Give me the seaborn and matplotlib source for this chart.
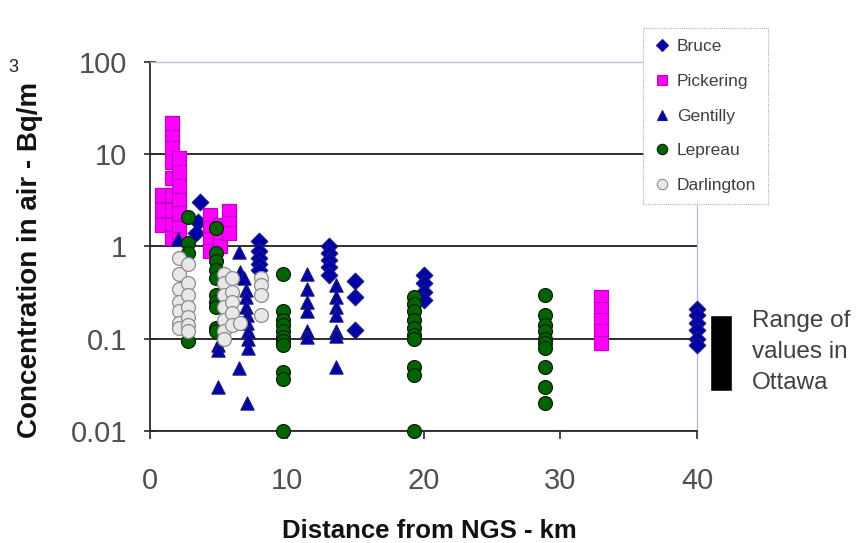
import pandas as pd
import matplotlib
matplotlib.use("Agg")
import matplotlib.pyplot as plt
import seaborn as sns
from matplotlib.ticker import FixedLocator, NullLocator, FuncFormatter
from matplotlib.lines import Line2D

# values (distance km, concentration Bq/m3)
bruce_x = [3.65, 3.5, 3.4,
           8.0, 8.0, 8.0, 8.0, 8.0,
           13.1, 13.1, 13.1, 13.1, 13.1,
           15.0, 15.0, 15.0,
           20.0, 20.0, 20.0, 20.0,
           40.0, 40.0, 40.0, 40.0, 40.0, 40.0]
bruce_y = [3.0, 1.85, 1.4,
           1.15, 0.9, 0.75, 0.65, 0.55,
           1.0, 0.85, 0.71, 0.6, 0.49,
           0.42, 0.28, 0.124,
           0.49, 0.40, 0.32, 0.26,
           0.21, 0.18, 0.15, 0.124, 0.10, 0.085]

pickering_x = [0.9, 0.9, 0.9,
               1.6, 1.6, 1.6, 1.6, 1.6, 1.6, 1.6, 1.6, 1.6,
               2.1, 2.1, 2.1, 2.1, 2.1, 2.1, 2.1,
               4.4, 4.4, 4.4, 4.4,
               5.1, 5.1, 5.1,
               5.8, 5.8, 5.8,
               33.0, 33.0, 33.0, 33.0, 33.0]
pickering_y = [3.6, 2.5, 1.7,
               21.8, 15.4, 11.7, 8.2, 5.5, 3.6, 2.5, 1.7, 1.25,
               9.0, 6.5, 4.5, 3.2, 2.3, 1.6, 1.2,
               2.2, 1.6, 1.2, 0.9,
               1.7, 1.3, 1.0,
               2.4, 1.8, 1.4,
               0.28, 0.21, 0.16, 0.12, 0.09]

gentilly_x = [2.05,
              5.0, 5.0, 5.0,
              6.5, 6.6, 6.9, 7.0, 7.0, 7.0, 7.1, 7.1, 7.2, 7.2, 7.2, 6.5, 7.1,
              11.5, 11.5, 11.5, 11.5, 11.5, 11.5,
              13.6, 13.6, 13.6, 13.6, 13.6, 13.6, 13.6]
gentilly_y = [1.2,
              0.085, 0.075, 0.03,
              0.87, 0.53, 0.45, 0.34, 0.28, 0.22, 0.18, 0.15, 0.12, 0.1, 0.079, 0.048, 0.020,
              0.5, 0.35, 0.25, 0.2, 0.12, 0.105,
              0.38, 0.28, 0.22, 0.18, 0.12, 0.108, 0.05]

lepreau_x = [2.8, 2.8, 2.8, 2.8,
             4.8, 4.8, 4.8, 4.8, 4.8, 4.8, 4.8, 4.8, 4.8, 4.8,
             9.7, 9.7, 9.7, 9.7, 9.7, 9.7, 9.7, 9.7, 9.7, 9.7, 9.7,
             19.3, 19.3, 19.3, 19.3, 19.3, 19.3, 19.3, 19.3, 19.3, 19.3,
             28.9, 28.9, 28.9, 28.9, 28.9, 28.9, 28.9, 28.9, 28.9, 28.9]
lepreau_y = [2.1, 1.1, 0.85, 0.095,
             1.6, 0.85, 0.7, 0.55, 0.45, 0.3, 0.25, 0.22, 0.13, 0.12,
             0.5, 0.2, 0.16, 0.14, 0.12, 0.105, 0.095, 0.085, 0.044, 0.037, 0.01,
             0.28, 0.24, 0.2, 0.16, 0.13, 0.11, 0.1, 0.05, 0.04, 0.01,
             0.3, 0.18, 0.14, 0.12, 0.1, 0.09, 0.08, 0.05, 0.03, 0.02]

darlington_x = [2.1, 2.1, 2.1, 2.1, 2.1, 2.1, 2.1,
                2.8, 2.8, 2.8, 2.8, 2.8, 2.8, 2.8,
                5.4, 5.4, 5.4, 5.4, 5.4, 5.4, 5.4,
                6.0, 6.0, 6.0, 6.0, 6.0,
                6.6,
                8.1, 8.1, 8.1, 8.1]
darlington_y = [0.75, 0.5, 0.35, 0.25, 0.2, 0.15, 0.13,
                0.65, 0.4, 0.3, 0.22, 0.17, 0.14, 0.12,
                0.5, 0.4, 0.3, 0.22, 0.16, 0.12, 0.1,
                0.45, 0.32, 0.25, 0.19, 0.14,
                0.15,
                0.45, 0.38, 0.3, 0.18]

ottawa_range = [0.027, 0.18]
ottawa_x = 41.76

x_ticks = [0, 10, 20, 30, 40]
y_ticks = [0.01, 0.1, 1, 10, 100]

# name, x, y, marker, size, face, edge
series = [
    ("Bruce", bruce_x, bruce_y, "D", 70, "#0000a8", "#1a1a80"),
    ("Pickering", pickering_x, pickering_y, "s", 100, "#ff00ff", "#c000c0"),
    ("Gentilly", gentilly_x, gentilly_y, "^", 90, "#0000a8", "#1a1a80"),
    ("Lepreau", lepreau_x, lepreau_y, "o", 100, "#006400", "#102010"),
    ("Darlington", darlington_x, darlington_y, "o", 100, "#e8e8e8", "#8c8c8c"),
]

sns.set_style("white")
plt.rcParams["font.family"] = ["Liberation Sans", "DejaVu Sans"]

fig = plt.figure(figsize=(8.66, 5.43), dpi=100)
ax = fig.add_axes([150 / 866, 1 - 431 / 543, 547 / 866, 369 / 543])

handles = []
for name, xs, ys, mk, sz, fc, ec in series:
    df = pd.DataFrame({"dist": xs, "conc": ys})
    sns.scatterplot(data=df, x="dist", y="conc", marker=mk, s=sz, color=fc,
                    edgecolor=ec, linewidth=0.9, ax=ax, zorder=3, clip_on=False)
    handles.append(Line2D([], [], marker=mk, linestyle="none", markersize=7.5 if mk != "D" else 6,
                          markerfacecolor=fc, markeredgecolor=ec, markeredgewidth=0.8, label=name))

ax.set_yscale("log")
ax.set_xlim(0, 40)
ax.set_ylim(0.01, 100)
ax.xaxis.set_major_locator(FixedLocator(x_ticks))
ax.yaxis.set_major_locator(FixedLocator(y_ticks))
ax.yaxis.set_minor_locator(NullLocator())
ax.yaxis.set_major_formatter(FuncFormatter(lambda v, p: f"{v:g}"))
ax.set_xlabel("")
ax.set_ylabel("")

ax.yaxis.grid(True, color="#1e1e1e", linewidth=1.3)
for t in ax.yaxis.get_major_ticks():
    if t.get_loc() >= 100:
        t.gridline.set_visible(False)

for side in ["left", "bottom"]:
    ax.spines[side].set_color("#2a2a2a")
    ax.spines[side].set_linewidth(1.3)
for side in ["top", "right"]:
    ax.spines[side].set_color("#b8b8d8")
    ax.spines[side].set_linestyle((0, (1, 1)))
    ax.spines[side].set_linewidth(0.9)

ax.tick_params(axis="y", direction="inout", length=9, width=1.2, color="#2a2a2a",
               labelsize=21, labelcolor="#505050", pad=12, left=True)
ax.tick_params(axis="x", direction="out", length=6, width=1.2, color="#2a2a2a",
               labelsize=21, labelcolor="#505050", pad=20, bottom=True)

# Ottawa range bar beside the axes
ax.bar([ottawa_x], [ottawa_range[1] - ottawa_range[0]], bottom=ottawa_range[0],
       width=1.6, color="black", clip_on=False, zorder=3)
fig.text(752 / 866, 1 - 352 / 543, "Range of\nvalues in\nOttawa", fontsize=17.5,
         color="#404040", ha="left", va="center", linespacing=1.55)

fig.text(30 / 866, 1 - 260 / 543, "Concentration in air - Bq/m", rotation=90,
         fontsize=20, fontweight="bold", ha="center", va="center", color="#111111")
fig.text(13 / 866, 1 - 68 / 543, "3", fontsize=13, ha="center", va="center", color="#222222")
fig.text(429 / 866, 1 - 531 / 543, "Distance from NGS - km", fontsize=18.5,
         fontweight="bold", ha="center", va="center", color="#111111")

leg = ax.legend(handles=handles, loc="upper left", bbox_to_anchor=(643 / 866, 1 - 28 / 543),
                bbox_transform=fig.transFigure, fontsize=12.5, labelspacing=1.12,
                handlelength=0.9, handletextpad=0.4, borderpad=0.65, fancybox=False,
                framealpha=1, borderaxespad=0)
leg.get_frame().set_edgecolor("#b0b0c0")
leg.get_frame().set_linestyle((0, (1, 1)))
leg.get_frame().set_linewidth(0.8)
for txt in leg.get_texts():
    txt.set_color("#404040")

fig.savefig("out.png", dpi=100)
